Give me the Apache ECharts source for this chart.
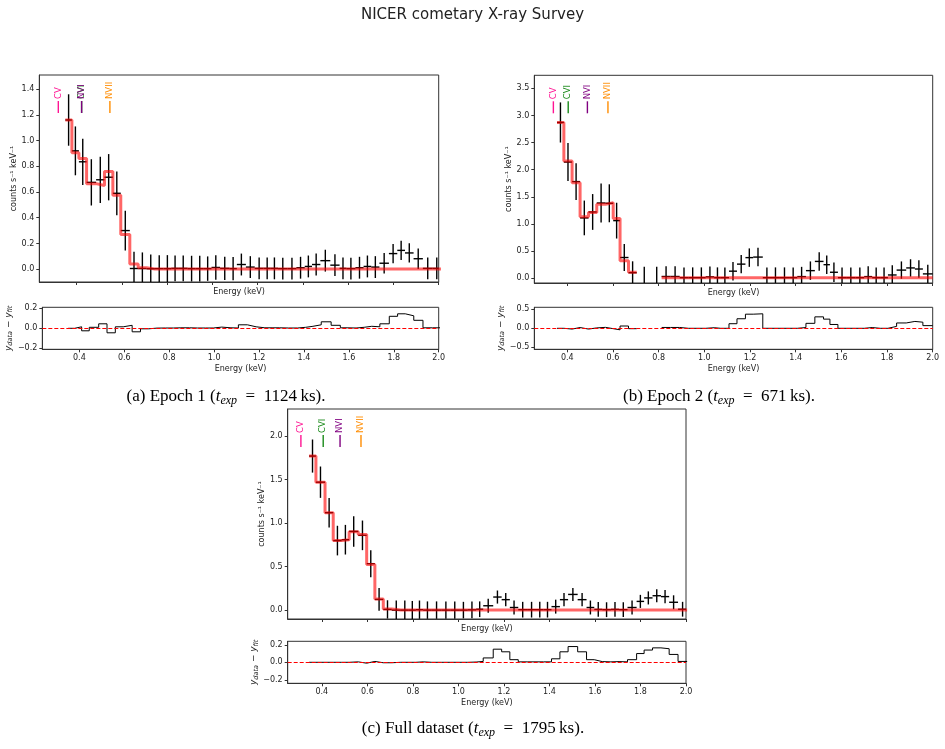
<!DOCTYPE html>
<html>
<head>
<meta charset="utf-8">
<script src="https://cdn.jsdelivr.net/npm/echarts@6/dist/echarts.min.js"></script>
<style>
  html, body { margin: 0; padding: 0; background: #fff; }
  #chart { width: 945px; height: 749px; }
</style>
</head>
<body>
<div id="chart"></div>
<script>
// ---- Epoch 1 ----
const edgesA = [0.350, 0.379, 0.410, 0.444, 0.486, 0.523, 0.560, 0.595, 0.635, 0.672,
  0.709, 0.746, 0.784, 0.818, 0.852, 0.890, 0.926, 0.962, 0.996, 1.034,
  1.075, 1.108, 1.148, 1.187, 1.226, 1.258, 1.290, 1.332, 1.371, 1.408,
  1.440, 1.477, 1.521, 1.562, 1.592, 1.632, 1.668, 1.702, 1.738, 1.780,
  1.817, 1.851, 1.889, 1.930, 1.973, 2.010];
const countsA = [1.16, 0.92, 0.835, 0.675, 0.695, 0.715, 0.59, 0.30, 0.005, 0.005,
  0.003, 0.004, 0.004, 0.006, 0.006, 0.004, 0.004, 0.004, 0.013, 0.006,
  0.004, 0.036, 0.016, 0.006, 0.006, 0.006, 0.004, 0.004, 0.011, 0.021,
  0.036, 0.066, 0.031, 0.006, 0.004, 0.011, 0.021, 0.016, 0.046, 0.121,
  0.146, 0.126, 0.081, 0.006, 0.006];
const errA = [0.20, 0.19, 0.18, 0.18, 0.18, 0.18, 0.17, 0.155, 0.13, 0.125,
  0.11, 0.105, 0.105, 0.10, 0.10, 0.10, 0.10, 0.095, 0.095, 0.09,
  0.09, 0.085, 0.085, 0.085, 0.085, 0.085, 0.085, 0.085, 0.085, 0.085,
  0.085, 0.085, 0.085, 0.085, 0.085, 0.085, 0.085, 0.085, 0.08, 0.075,
  0.075, 0.075, 0.08, 0.085, 0.085];
const modelA = [1.16, 0.905, 0.86, 0.665, 0.65, 0.76, 0.575, 0.27, 0.04, 0.01,
  0.001, 0.001, 0.001, 0.001, 0.001, 0.001, 0.001, 0.001, 0.001, 0.001,
  0.001, 0.001, 0.001, 0.001, 0.001, 0.001, 0.001, 0.001, 0.001, 0.001,
  0.001, 0.001, 0.001, 0.001, 0.001, 0.001, 0.001, 0.001, 0.001, 0.001,
  0.001, 0.001, 0.001, 0.001, 0.001];

// ---- Epoch 2 ----
const edgesB = [0.355, 0.385, 0.421, 0.456, 0.493, 0.529, 0.567, 0.601, 0.631, 0.668,
  0.704, 0.770, 0.813, 0.852, 0.892, 0.930, 0.968, 1.006, 1.043, 1.072,
  1.108, 1.143, 1.180, 1.214, 1.256, 1.292, 1.331, 1.371, 1.407, 1.445,
  1.484, 1.522, 1.550, 1.585, 1.621, 1.662, 1.700, 1.735, 1.770, 1.804,
  1.842, 1.884, 1.922, 1.957, 2.000];
const countsB = [2.87, 2.14, 1.78, 1.11, 1.22, 1.385, 1.38, 1.06, 0.38, 0.10,
  -0.12, -0.12, 0.03, 0.03, 0.008, 0.008, 0.008, 0.023, 0.008, 0.008,
  0.128, 0.258, 0.378, 0.388, 0.008, 0.008, 0.008, 0.008, 0.028, 0.138,
  0.308, 0.248, 0.108, 0.008, 0.008, 0.008, 0.028, 0.008, 0.008, 0.058,
  0.148, 0.188, 0.168, 0.078];
const errB = [0.37, 0.35, 0.34, 0.32, 0.33, 0.36, 0.35, 0.33, 0.25, 0.21,
  0.33, 0.33, 0.19, 0.19, 0.19, 0.19, 0.19, 0.19, 0.19, 0.19,
  0.17, 0.17, 0.17, 0.17, 0.19, 0.19, 0.19, 0.19, 0.18, 0.17,
  0.17, 0.17, 0.18, 0.19, 0.19, 0.19, 0.19, 0.19, 0.19, 0.18,
  0.16, 0.16, 0.16, 0.17];
const modelB = [2.87, 2.16, 1.76, 1.13, 1.21, 1.36, 1.39, 1.10, 0.32, 0.11,
  null, null, 0.008, 0.008, 0.008, 0.008, 0.008, 0.008, 0.008, 0.008,
  0.008, 0.008, 0.008, 0.008, 0.008, 0.008, 0.008, 0.008, 0.008, 0.008,
  0.008, 0.008, 0.008, 0.008, 0.008, 0.008, 0.008, 0.008, 0.008, 0.008,
  0.008, 0.008, 0.008, 0.008];

// ---- Full dataset ----
const edgesC = [0.344, 0.374, 0.414, 0.450, 0.487, 0.520, 0.560, 0.597, 0.633, 0.670,
  0.707, 0.747, 0.782, 0.813, 0.845, 0.883, 0.925, 0.965, 1.003, 1.041,
  1.078, 1.109, 1.153, 1.190, 1.226, 1.263, 1.302, 1.341, 1.374, 1.409,
  1.446, 1.482, 1.524, 1.563, 1.597, 1.632, 1.670, 1.706, 1.743, 1.783,
  1.816, 1.853, 1.890, 1.926, 1.965, 2.005];
const countsC = [1.77, 1.47, 1.12, 0.80, 0.81, 0.905, 0.86, 0.535, 0.125, 0.01,
  0.002, 0.002, 0.002, 0.007, 0.002, 0.002, 0.002, 0.002, 0.002, 0.005,
  0.012, 0.052, 0.152, 0.122, 0.032, 0.007, 0.007, 0.007, 0.007, 0.042,
  0.122, 0.182, 0.122, 0.032, 0.01, 0.007, 0.01, 0.007, 0.032, 0.102,
  0.142, 0.167, 0.157, 0.092, 0.012];
const errC = [0.19, 0.18, 0.17, 0.17, 0.17, 0.175, 0.17, 0.155, 0.13, 0.105,
  0.11, 0.11, 0.105, 0.105, 0.10, 0.10, 0.10, 0.10, 0.095, 0.095,
  0.09, 0.08, 0.075, 0.075, 0.08, 0.09, 0.09, 0.09, 0.09, 0.08,
  0.075, 0.075, 0.075, 0.08, 0.085, 0.085, 0.085, 0.085, 0.08, 0.075,
  0.075, 0.075, 0.075, 0.08, 0.085];
const modelC = [1.77, 1.47, 1.12, 0.80, 0.81, 0.90, 0.87, 0.525, 0.13, 0.015,
  0.002, 0.002, 0.002, 0.002, 0.002, 0.002, 0.002, 0.002, 0.002, 0.002,
  0.002, 0.002, 0.002, 0.002, 0.002, 0.002, 0.002, 0.002, 0.002, 0.002,
  0.002, 0.002, 0.002, 0.002, 0.002, 0.002, 0.002, 0.002, 0.002, 0.002,
  0.002, 0.002, 0.002, 0.002, 0.002];

// ion lines
const ionNames = ['CV', 'CVI', 'NVI', 'NVII'];
const ionA = [0.319, 0.422, 0.422, 0.547];
const ionB = [0.339, 0.404, 0.488, 0.578];
const ionC = [0.308, 0.406, 0.480, 0.572];

// ticks
const xTicks = [0.4, 0.6, 0.8, 1.0, 1.2, 1.4, 1.6, 1.8, 2.0];
const yTicksA = [0, 0.2, 0.4, 0.6, 0.8, 1.0, 1.2, 1.4];
const yTicksB = [0, 0.5, 1.0, 1.5, 2.0, 2.5, 3.0, 3.5];
const yTicksC = [0, 0.5, 1.0, 1.5, 2.0];
const resTicksA = [-0.2, 0, 0.2];
const resTicksB = [-0.5, 0, 0.5];
const resTicksC = [-0.2, 0, 0.2];

const ionColors = ['#ff1493', '#1a8a1a', '#800080', '#ff8c00'];
const FONT = 'DejaVu Sans';
const FS = 8;
const AX = '#333';
const TXT = '#222';

const fmt = v => (v < -1e-9 ? '\u2212' : '') + Math.abs(v).toFixed(1);

function xAxis(gi, min, labels) {
  return {
    type: 'value', gridIndex: gi, min: min, max: 2.0,
    name: 'Energy (keV)', nameLocation: 'middle', nameGap: labels ? 16 : 6,
    nameTextStyle: { fontSize: FS, color: TXT, fontFamily: FONT },
    axisLine: { onZero: false, lineStyle: { color: AX, width: 1 } },
    axisTick: { length: 3, customValues: xTicks, lineStyle: { color: AX } },
    axisLabel: { show: labels, customValues: xTicks, formatter: fmt, fontSize: FS, color: TXT, fontFamily: FONT, margin: 5 },
    splitLine: { show: false }
  };
}
function yAxis(gi, min, max, ticks, name, gap, rich) {
  return {
    type: 'value', gridIndex: gi, min: min, max: max,
    name: name, nameLocation: 'middle', nameGap: gap, nameRotate: 90,
    nameTextStyle: { fontSize: FS, color: TXT, fontFamily: FONT, rich: rich },
    axisLine: { show: true, lineStyle: { color: AX, width: 1 } },
    axisTick: { length: 3, customValues: ticks, lineStyle: { color: AX } },
    axisLabel: { customValues: ticks, formatter: fmt, fontSize: FS, color: TXT, fontFamily: FONT, margin: 5 },
    splitLine: { show: false }
  };
}

const resRich = {
  i: { fontSize: 9, fontStyle: 'italic', fontFamily: FONT, color: TXT, lineHeight: 11 },
  s: { fontSize: 6.5, fontStyle: 'italic', fontFamily: FONT, color: TXT, lineHeight: 7, padding: [6, 0, 0, 0], verticalAlign: 'bottom' },
  n: { fontSize: 9, fontFamily: FONT, color: TXT, lineHeight: 11 }
};
const resName = '{i|y}{s|data}{n| \u2212 }{i|y}{s|fit}';

function errSeries(idx, edges, vals, errs, ymin, ymax) {
  const data = vals.map((v, i) => [(edges[i] + edges[i + 1]) / 2, v, edges[i], edges[i + 1], errs[i]]);
  return {
    type: 'custom', xAxisIndex: idx, yAxisIndex: idx, data: data, z: 2, silent: true,
    renderItem: function (params, api) {
      const xc = api.value(0), y = api.value(1), lo = api.value(2), hi = Math.min(api.value(3), 2.0), e = api.value(4);
      const cl = v => Math.max(ymin, Math.min(ymax, v));
      const a = api.coord([xc, cl(y + e)]), b = api.coord([xc, cl(y - e)]);
      const ch = [{ type: 'line', shape: { x1: a[0], y1: a[1], x2: b[0], y2: b[1] }, style: { stroke: '#000', lineWidth: 1.4 } }];
      if (y >= ymin && y <= ymax) {
        const l = api.coord([lo, y]), h = api.coord([hi, y]);
        ch.push({ type: 'line', shape: { x1: l[0], y1: l[1], x2: h[0], y2: h[1] }, style: { stroke: '#000', lineWidth: 1.4 } });
      }
      return { type: 'group', children: ch };
    }
  };
}

function stepPts(edges, vals) {
  const pts = [];
  vals.forEach((v, i) => {
    if (v === null) { pts.push([edges[i], '-']); return; }
    pts.push([edges[i], v], [edges[i + 1], v]);
  });
  return pts;
}

function modelSeries(idx, edges, model) {
  return {
    type: 'line', xAxisIndex: idx, yAxisIndex: idx, data: stepPts(edges, model),
    showSymbol: false, silent: true, z: 3, clip: true, connectNulls: false,
    lineStyle: { color: '#ff0000', opacity: 0.6, width: 3 }
  };
}

function resSeries(idx, edges, vals, model) {
  const res = vals.map((v, i) => model[i] === null ? null : +(v - model[i]).toFixed(4));
  return {
    type: 'line', xAxisIndex: idx, yAxisIndex: idx, data: stepPts(edges, res),
    showSymbol: false, silent: true, z: 3, clip: true, connectNulls: false,
    lineStyle: { color: '#000', width: 1 },
    markLine: {
      silent: true, symbol: ['none', 'none'], label: { show: false }, z: 5,
      lineStyle: { color: '#ff0000', type: [4, 2], width: 1 },
      data: [{ yAxis: 0 }]
    }
  };
}

function ionSeries(idx, energies, ymax) {
  return {
    type: 'custom', xAxisIndex: idx, yAxisIndex: idx, silent: true, z: 4,
    data: energies.map((e, i) => [e, i]),
    renderItem: function (params, api) {
      const i = api.value(1);
      const p = api.coord([api.value(0), ymax]);
      const c = ionColors[i];
      return {
        type: 'group', children: [
          { type: 'line', shape: { x1: p[0], y1: p[1] + 26, x2: p[0], y2: p[1] + 38 }, style: { stroke: c, lineWidth: 1.4 } },
          { type: 'text', x: p[0], y: p[1] + 24, rotation: Math.PI / 2,
            style: { text: ionNames[i], fill: c, font: '8.5px "DejaVu Sans"', align: 'left', verticalAlign: 'middle' } }
        ]
      };
    }
  };
}

const capRich = {
  n: { fontSize: 17, fontFamily: 'Liberation Serif', fill: '#000', lineHeight: 19 },
  i: { fontSize: 17, fontFamily: 'Liberation Serif', fontStyle: 'italic', fill: '#000', lineHeight: 19 },
  s: { fontSize: 12, fontFamily: 'Liberation Serif', fontStyle: 'italic', fill: '#000', lineHeight: 12, padding: [13, 0, 0, 0], verticalAlign: 'bottom' }
};
function caption(x, y, text) {
  return { type: 'text', x: x, y: y, style: { text: text, rich: capRich, align: 'center', verticalAlign: 'middle', fill: '#000' } };
}

const grids = [
  { left: 39.3, top: 75, width: 399.4, height: 207 },
  { left: 39.3, top: 307.3, width: 399.4, height: 42 },
  { left: 534.3, top: 75.3, width: 398.4, height: 207.7 },
  { left: 534.3, top: 307.3, width: 398.4, height: 42 },
  { left: 287.7, top: 409, width: 398.3, height: 210 },
  { left: 287.7, top: 641.3, width: 398.3, height: 42 }
].map(g => Object.assign({ show: true, borderColor: AX, borderWidth: 1, backgroundColor: 'transparent', containLabel: false }, g));

const countsName = 'counts s\u207B\u00B9 keV\u207B\u00B9';
const EQ = '\u2002=\u2002';

const chart = echarts.init(document.getElementById('chart'), null, { renderer: 'canvas' });
chart.setOption({
  animation: false,
  textStyle: { fontFamily: FONT },
  title: {
    text: 'NICER cometary X-ray Survey', left: 'center', top: 3,
    textStyle: { fontSize: 15, fontWeight: 'normal', color: TXT, fontFamily: FONT }
  },
  grid: grids,
  xAxis: [
    xAxis(0, 0.235, false), xAxis(1, 0.235, true),
    xAxis(2, 0.2555, false), xAxis(3, 0.2555, true),
    xAxis(4, 0.25, false), xAxis(5, 0.25, true)
  ],
  yAxis: [
    yAxis(0, -0.1, 1.51, yTicksA, countsName, 19),
    yAxis(1, -0.21, 0.21, resTicksA, resName, 20, resRich),
    yAxis(2, -0.09, 3.74, yTicksB, countsName, 19),
    yAxis(3, -0.55, 0.55, resTicksB, resName, 20, resRich),
    yAxis(4, -0.1, 2.31, yTicksC, countsName, 19),
    yAxis(5, -0.24, 0.24, resTicksC, resName, 20, resRich)
  ],
  series: [
    errSeries(0, edgesA, countsA, errA, -0.1, 1.51),
    modelSeries(0, edgesA, modelA),
    ionSeries(0, ionA, 1.51),
    resSeries(1, edgesA, countsA, modelA),
    errSeries(2, edgesB, countsB, errB, -0.09, 3.74),
    modelSeries(2, edgesB, modelB),
    ionSeries(2, ionB, 3.74),
    resSeries(3, edgesB, countsB, modelB),
    errSeries(4, edgesC, countsC, errC, -0.1, 2.31),
    modelSeries(4, edgesC, modelC),
    ionSeries(4, ionC, 2.31),
    resSeries(5, edgesC, countsC, modelC)
  ],
  graphic: [
    caption(226, 397, '{n|(a) Epoch 1 (}{i|t}{s|exp}{n|' + EQ + '1124\u2009ks).}'),
    caption(719, 397, '{n|(b) Epoch 2 (}{i|t}{s|exp}{n|' + EQ + '671\u2009ks).}'),
    caption(473, 729, '{n|(c) Full dataset (}{i|t}{s|exp}{n|' + EQ + '1795\u2009ks).}')
  ]
});
</script>
</body>
</html>
